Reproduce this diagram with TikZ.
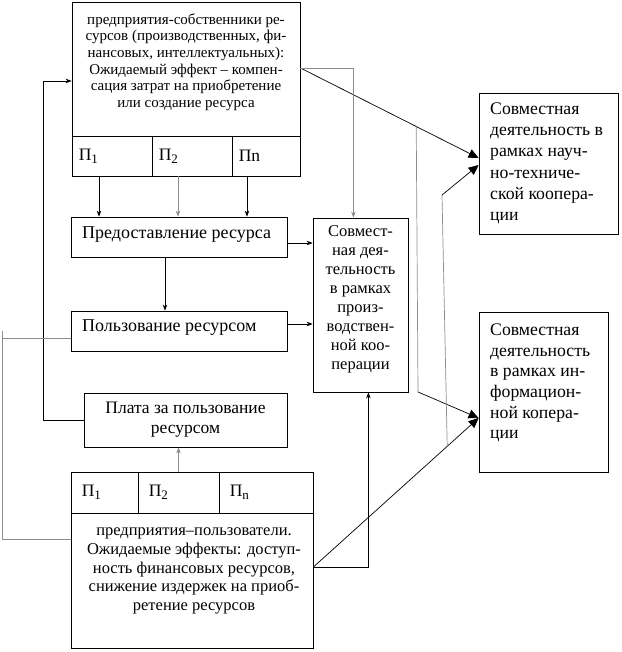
\documentclass[tikz,border=0pt]{standalone}
\usepackage{fontspec}
\setmainfont{Liberation Serif}
\usetikzlibrary{arrows.meta,calc}
\definecolor{lg}{RGB}{140,140,140}
\begin{document}
\begin{tikzpicture}[x=1pt,y=-1pt,
  box/.style={draw,line width=0.8pt,inner sep=0pt},
  txt/.style={inner sep=0pt,align=center},
  sar/.style={-{Stealth[length=6pt,width=4.5pt]},line width=0.7pt},
  bar/.style={-{Triangle[length=10pt,width=9pt]},line width=0.7pt},
  cell/.style={anchor=west,inner sep=0pt,font=\fontsize{17.5}{20}\selectfont}]
\useasboundingbox (0,0) rectangle (621,652);
% top owner box
\node[box,minimum width=228pt,minimum height=134pt] (own) at (186,69) {};
\node[txt,font=\fontsize{15}{16.6}\selectfont] (ownT) at (186,62) {предприятия-собственники ре-\\сурсов (производственных, фи-\\нансовых, интеллектуальных):\\Ожидаемый эффект -- компен-\\сация затрат на приобретение\\или создание ресурса};
\node[box,minimum width=80pt,minimum height=40pt] (c1) at (112,156) {};
\node[box,minimum width=80pt,minimum height=40pt] (c2) at (192,156) {};
\node[box,minimum width=68pt,minimum height=40pt] (c3) at (266,156) {};
\node[cell] (c1t) at ([xshift=7pt]c1.west) {П\raisebox{-3pt}{\fontsize{13}{13}\selectfont 1}};
\node[cell] (c2t) at ([xshift=7pt]c2.west) {П\raisebox{-3pt}{\fontsize{13}{13}\selectfont 2}};
\node[cell] (c3t) at ([xshift=7pt]c3.west) {Пn};
% process boxes
\node[box,minimum width=216pt,minimum height=40pt] (pre) at (179,237) {};
\node[anchor=west,inner sep=0pt,font=\fontsize{18}{20}\selectfont] (preT) at (82,235) {Предоставление ресурса};
\node[box,minimum width=216pt,minimum height=40pt] (pol) at (179,331) {};
\node[anchor=west,inner sep=0pt,font=\fontsize{18}{20}\selectfont] (polT) at (82,328) {Пользование ресурсом};
\node[box,minimum width=203pt,minimum height=54pt] (pl) at (185.5,420) {};
\node[txt,font=\fontsize{17.5}{20}\selectfont] (plT) at (185.5,420) {Плата за пользование\\ресурсом};
% middle box
\node[box,minimum width=95pt,minimum height=174pt] (mid) at (360.5,305) {};
\node[txt,font=\fontsize{16.5}{19}\selectfont] (midT) at (360.5,299) {Совмест-\\ная дея-\\тельность\\в рамках\\произ-\\водствен-\\ной коо-\\перации};
% right boxes
\node[box,minimum width=139pt,minimum height=141pt] (r1) at (548.5,163.5) {};
\node[anchor=west,inner sep=0pt,align=left,font=\fontsize{17.7}{21.3}\selectfont] (r1T) at (490,163.5) {Совместная\\деятельность в\\рамках науч-\\но-техниче-\\ской коопера-\\ции};
\node[box,minimum width=129pt,minimum height=160pt] (r2) at (543.5,392) {};
\node[anchor=west,inner sep=0pt,align=left,font=\fontsize{17.7}{20.7}\selectfont] (r2T) at (490,383) {Совместная\\деятельность\\в рамках ин-\\формацион-\\ной копера-\\ции};
% bottom user box
\node[box,minimum width=242pt,minimum height=135pt] (usr) at (192,580.5) {};
\node[box,minimum width=67pt,minimum height=41pt] (d1) at (104.5,492.5) {};
\node[box,minimum width=81pt,minimum height=41pt] (d2) at (178.5,492.5) {};
\node[box,minimum width=94pt,minimum height=41pt] (d3) at (266,492.5) {};
\node[cell] (d1t) at ([xshift=11pt]d1.west) {П\raisebox{-3pt}{\fontsize{13}{13}\selectfont 1}};
\node[cell] (d2t) at ([xshift=11pt]d2.west) {П\raisebox{-3pt}{\fontsize{13}{13}\selectfont 2}};
\node[cell] (d3t) at ([xshift=11pt]d3.west) {П\raisebox{-3pt}{\fontsize{13}{13}\selectfont n}};
\node[txt,font=\fontsize{16.5}{18.7}\selectfont] (usrT) at (194,571) {предприятия--пользователи.\\Ожидаемые эффекты: доступ-\\ность финансовых ресурсов,\\снижение издержек на приоб-\\ретение ресурсов};
% connectors
\draw[sar] ([xshift=-13pt]c1.south) -- ([xshift=-13pt]c1.south |- pre.north);
\draw[sar,lg] ([xshift=-14pt]c2.south) -- ([xshift=-14pt]c2.south |- pre.north);
\draw[sar] ([xshift=-19pt]c3.south) -- ([xshift=-19pt]c3.south |- pre.north);
\draw[sar] ([xshift=-14pt]pre.south) -- ([xshift=-14pt]pol.north);
\draw[sar] ([yshift=-6pt]pre.east) -- ([yshift=-6pt]pre.east -| mid.west);
\draw[sar] ([yshift=7pt]pol.east) -- ([yshift=7pt]pol.east -| mid.west);
\coordinate (fb) at ([yshift=-12pt]own.west);
\draw[sar] (pl.west) -| ([xshift=-28pt]fb) -- (fb);
\draw[lg,line width=0.7pt] ([yshift=-7pt]pol.west) -| ([xshift=-68pt]usr.west |- pol.west) |- ([yshift=41.5pt]usr.west);
\draw[sar,lg] (d2.north) -- (d2.north |- pl.south);
% right-hand connectors
\coordinate (oR) at ([yshift=1pt]own.east);
\coordinate (r1a) at ([yshift=5.5pt]r1.west);
\coordinate (r1b) at ([yshift=-1.5pt]r1.west);
\coordinate (r2a) at ([yshift=-26pt]r2.west);
\coordinate (uR) at ([yshift=13.5pt]usr.east);
\draw[bar] (oR) -- (r1a);
\draw[sar,lg] (oR) -- ++(53,0) coordinate (g1) -- (g1 |- mid.north);
\coordinate (j1) at ($(oR)!0.65!(r1a)$);
\draw[lg,line width=0.7pt] (j1) -- (418,392) coordinate (k1);
\draw[bar] (k1) -- (r2a);
\draw[bar] (uR) -- (r2a);
\coordinate (j2) at ($(uR)!0.81!(r2a)$);
\draw[lg,line width=0.7pt] (j2) -- (442,195) coordinate (k2);
\draw[bar] (k2) -- (r1b);
\draw[sar] (uR) -- ++(55,0) coordinate (g2) -- (g2 |- mid.south);
\end{tikzpicture}
\end{document}
